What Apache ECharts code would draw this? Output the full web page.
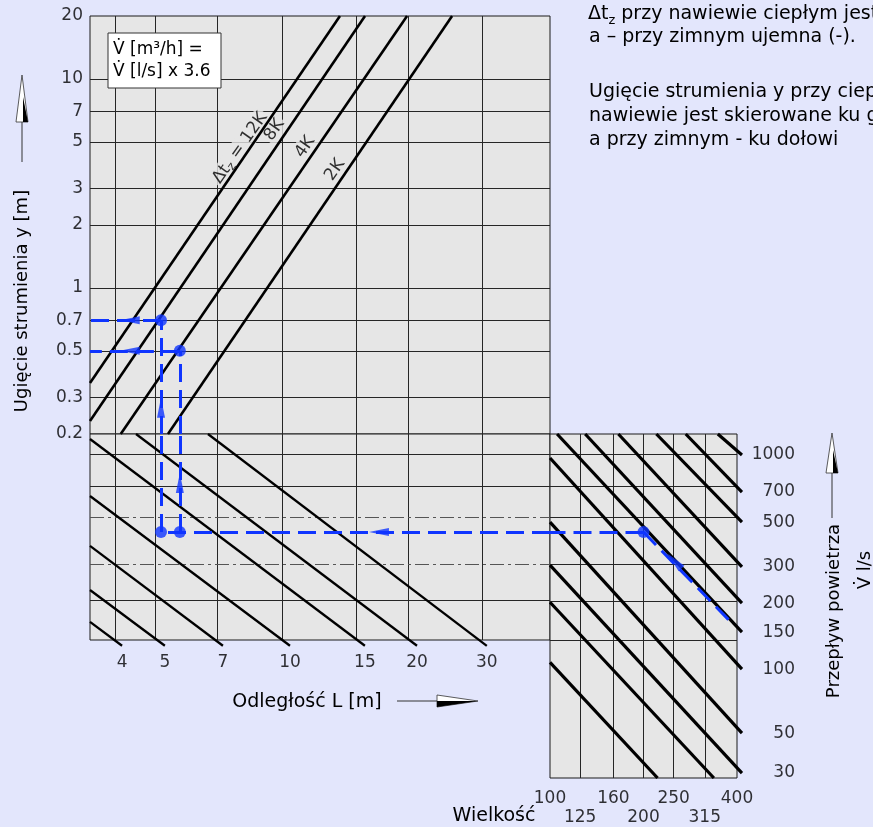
<!DOCTYPE html>
<html><head><meta charset="utf-8">
<script src="https://cdn.jsdelivr.net/npm/echarts@6/dist/echarts.min.js"></script>
<style>html,body{margin:0;padding:0;background:#e3e6fc;}#c{width:873px;height:827px;}</style>
</head><body><div id="c"></div>
<script>
// ---------- axis ranges ----------
const L_MIN = 3.49, L_MAX = 43.4;          // distance L [m]
const Y_MIN = 0.2, Y_MAX = 20;             // deflection y [m]
const FLOW_MAX = 1245, FLOW_MIN_B = 130, FLOW_MIN_C = 28.7;   // air flow [l/s]
const SIZE_MIN = 100, SIZE_MAX = 400;      // size

// ---------- grid / tick values ----------
const Y_TICKS = [0.2, 0.3, 0.5, 0.7, 1, 2, 3, 5, 7, 10, 20];
const L_GRID = [4, 5, 7, 10, 15, 20, 30];
const FLOW_GRID = [1000, 700, 500, 300, 200];
const FLOW_GRID_BROKEN = [500, 300];       // drawn broken in the lower-left panel
const SIZE_GRID = [125, 160, 200, 250, 315];
const SIZE_TICKS_ROW1 = [100, 160, 250, 400];
const SIZE_TICKS_ROW2 = [125, 200, 315];

// ---------- Δt_z lines (top panel) ----------
const DT_L0 = [3.49, 3.49, 4.13, 5.35];
const DT_Y0 = [0.351, 0.231, 0.2, 0.2];
const DT_L1 = [13.73, 15.75, 19.83, 25.38];
const DT_Y1 = [20, 20, 20, 20];
const DT_LABELS = ['{d|Δt}{s|z}{d| = 12K}', '{d|8K}', '{d|4K}', '{d|2K}'];
const DT_LABEL_L = [7.94, 9.59, 11.34, 13.36];
const DT_LABEL_Y = [4.67, 5.70, 4.72, 3.67];

// ---------- distance lines (lower-left panel) ----------
const DIST_LABELS = ['4', '5', '7', '10', '15', '20', '30'];
const DIST_L0 = [3.49, 3.49, 3.49, 3.49, 3.49, 4.49, 6.66];
const DIST_F0 = [158.5, 225, 365, 631, 1179, 1245, 1245];
const DIST_L1 = [4.16, 5.26, 7.23, 10.44, 15.74, 20.94, 30.7];
const DIST_F1 = [122, 122, 122, 122, 122, 122, 122];

// ---------- size lines (lower-right panel) ----------
const SIZE_LINE_LABELS = ['1000', '700', '500', '300', '200', '150', '100', '50', '30', '', ''];
const SIZE_LINE_S0 = [347, 273.5, 220, 166, 129.8, 105.4, 100, 100, 100, 100, 100];
const SIZE_LINE_F0 = [1245, 1245, 1245, 1245, 1245, 1245, 957, 474, 296, 197, 102];
const SIZE_LINE_S1 = [415, 415, 415, 415, 415, 415, 415, 415, 415, 337, 222];
const SIZE_LINE_F1 = [989, 659, 474, 290, 195, 142, 94.6, 46.9, 30.3, 28.7, 28.7];

// ---------- worked example (blue) ----------
const EX_SIZE = 200, EX_FLOW = 425;
const EX_SIZE_END = 388, EX_FLOW_END = 155;
const EX_L = [5.15, 5.71];
const EX_Y = [0.7, 0.5];
const EX_ARROW_C = [252, 309];          // size, flow
const EX_ARROW_B_H = [17.0, 425];       // L, flow
const EX_ARROW_B_V = [5.71, 728];       // L, flow
const EX_ARROW_A_V = [5.15, 0.267];     // L, y
const EX_ARROW_A_H_L = 4.34;

// ---------- styles ----------
const FONT = 'DejaVu Sans';
const INK = '#000';
const PANEL = '#e6e6e6';
const BLUE = '#0f35ff';
const GRIDC = '#262626';

const seg = (x0, y0, x1, y1) => ({coords: [[x0, y0], [x1, y1]]});
const linesSeries = (xi, yi, data, style, z) => ({
  type: 'lines', coordinateSystem: 'cartesian2d', xAxisIndex: xi, yAxisIndex: yi,
  polyline: false, silent: true, clip: false, z: z, animation: false,
  lineStyle: Object.assign({color: INK, width: 1, opacity: 1, curveness: 0}, style),
  data: data
});
const labelSeries = (xi, yi, data, label, z) => ({
  type: 'scatter', xAxisIndex: xi, yAxisIndex: yi, symbolSize: 0, silent: true, clip: false,
  z: z || 5, animation: false, itemStyle: {color: INK},
  label: Object.assign({show: true, color: INK, fontFamily: FONT, fontSize: 17, textBorderWidth: 0,
    formatter: p => p.name}, label),
  data: data
});
const arrowSym = 'path://M0,0 L4,20 L-4,20 Z';

const series = [];
// grid lines
series.push(linesSeries(0, 0, [
  ...L_GRID.map(l => seg(l, Y_MIN, l, Y_MAX)),
  ...Y_TICKS.filter(v => v > Y_MIN && v < Y_MAX).map(v => seg(L_MIN, v, L_MAX, v))
], {color: GRIDC}, 2));
series.push(linesSeries(1, 1, [
  ...L_GRID.map(l => seg(l, FLOW_MIN_B, l, FLOW_MAX)),
  ...FLOW_GRID.filter(f => FLOW_GRID_BROKEN.indexOf(f) < 0).map(f => seg(L_MIN, f, L_MAX, f))
], {color: GRIDC}, 2));
series.push(linesSeries(1, 1, FLOW_GRID_BROKEN.map(f => seg(L_MIN, f, L_MAX, f)),
  {color: '#555', type: [14, 4, 3, 4]}, 2));
series.push(linesSeries(2, 2, [
  ...SIZE_GRID.map(s => seg(s, FLOW_MIN_C, s, FLOW_MAX)),
  ...FLOW_GRID.concat([FLOW_MIN_B]).map(f => seg(SIZE_MIN, f, SIZE_MAX, f))
], {color: GRIDC}, 2));

// Δt lines
series.push(linesSeries(0, 0, DT_L0.map((l, i) => seg(l, DT_Y0[i], DT_L1[i], DT_Y1[i])), {width: 2.6}, 4));
// distance lines
series.push(linesSeries(1, 1, DIST_L0.map((l, i) => seg(l, DIST_F0[i], DIST_L1[i], DIST_F1[i])), {width: 2.3}, 4));
// size lines
series.push(linesSeries(2, 2, SIZE_LINE_S0.map((s, i) => seg(s, SIZE_LINE_F0[i], SIZE_LINE_S1[i], SIZE_LINE_F1[i])), {width: 3.2}, 4));

// Δt labels
series.push(labelSeries(0, 0, DT_LABELS.map((t, i) => ({name: t, value: [DT_LABEL_L[i], DT_LABEL_Y[i]]})), {
  position: 'inside', rotate: 55, backgroundColor: PANEL, padding: [0, 2],
  rich: {d: {fontSize: 17, fontFamily: FONT, color: INK, textBorderWidth: 0, lineHeight: 20},
         s: {fontSize: 12, fontFamily: FONT, color: INK, textBorderWidth: 0, lineHeight: 11, verticalAlign: 'bottom'}}
}, 3));
// y tick labels
series.push(labelSeries(0, 0, Y_TICKS.map(v => ({name: String(v), value: [L_MIN, v]})), {position: 'left', distance: 7}));
// distance labels
series.push(labelSeries(1, 1, DIST_LABELS.map((t, i) => ({name: t, value: [DIST_L1[i], DIST_F1[i]]})), {position: 'bottom', distance: 8}));
// flow labels
series.push(labelSeries(2, 2, SIZE_LINE_LABELS.map((t, i) => ({name: t, value: [SIZE_LINE_S1[i], SIZE_LINE_F1[i]]})).filter(d => d.name),
  {position: 'right', distance: 53, align: 'right'}));
// size labels
series.push(labelSeries(2, 2, SIZE_TICKS_ROW1.map(s => ({name: String(s), value: [s, FLOW_MIN_C]})), {position: 'bottom', distance: 12}));
series.push(labelSeries(2, 2, SIZE_TICKS_ROW2.map(s => ({name: String(s), value: [s, FLOW_MIN_C]})), {position: 'bottom', distance: 31}));

// blue example path
const dash = {color: BLUE, width: 3, type: [18, 8]};
series.push(linesSeries(2, 2, [
  seg(EX_SIZE, EX_FLOW, SIZE_MIN, EX_FLOW),
  seg(EX_SIZE, EX_FLOW, EX_SIZE_END, EX_FLOW_END)
], dash, 6));
series.push(linesSeries(1, 1, [
  seg(L_MAX, EX_FLOW, EX_L[0], EX_FLOW),
  seg(EX_L[0], EX_FLOW, EX_L[0], FLOW_MAX),
  seg(EX_L[1], EX_FLOW, EX_L[1], FLOW_MAX)
], dash, 6));
series.push(linesSeries(0, 0, [
  seg(EX_L[0], Y_MIN, EX_L[0], EX_Y[0]),
  seg(EX_L[1], Y_MIN, EX_L[1], EX_Y[1]),
  seg(EX_L[0], EX_Y[0], L_MIN, EX_Y[0]),
  seg(EX_L[1], EX_Y[1], L_MIN, EX_Y[1])
], dash, 6));
const dotS = (xi, yi, pts) => ({type: 'scatter', xAxisIndex: xi, yAxisIndex: yi, symbol: 'circle', symbolSize: 12,
  itemStyle: {color: BLUE}, silent: true, z: 7, clip: false, animation: false, data: pts});
series.push(dotS(2, 2, [[EX_SIZE, EX_FLOW]]));
series.push(dotS(1, 1, EX_L.map(l => [l, EX_FLOW])));
series.push(dotS(0, 0, EX_L.map((l, i) => [l, EX_Y[i]])));
const arrS = (xi, yi, pts) => ({type: 'scatter', xAxisIndex: xi, yAxisIndex: yi, symbol: arrowSym, symbolSize: [8, 20],
  itemStyle: {color: BLUE}, silent: true, z: 7, clip: false, animation: false,
  data: pts.map(p => ({value: p.v, symbolRotate: p.r}))});
series.push(arrS(2, 2, [{v: EX_ARROW_C, r: 43}]));
series.push(arrS(1, 1, [{v: EX_ARROW_B_H, r: 90}, {v: EX_ARROW_B_V, r: 0}]));
series.push(arrS(0, 0, [{v: EX_ARROW_A_V, r: 0}, {v: [EX_ARROW_A_H_L, EX_Y[0]], r: 90}, {v: [EX_ARROW_A_H_L, EX_Y[1]], r: 90}]));

const gridBase = {show: true, backgroundColor: PANEL, borderColor: '#1a1a1a', borderWidth: 1, containLabel: false};
const hiddenAxis = (gi, min, max, extra) => Object.assign({gridIndex: gi, type: 'log', logBase: 10, min, max, show: false,
  splitLine: {show: false}}, extra || {});

const txt = (x, y, text, size, extra) => Object.assign({type: 'text', x, y, silent: true,
  style: Object.assign({text, font: size + 'px "' + FONT + '"', fill: INK, textAlign: 'left', textVerticalAlign: 'middle',
    align: 'left', verticalAlign: 'middle'}, extra && extra.style || {})}, extra && extra.el || {});

const graphic = [
  // conversion box
  {type: 'rect', shape: {x: 108, y: 33, width: 113, height: 55}, style: {fill: '#fff', stroke: '#333', lineWidth: 1}, z: 100},
  txt(113, 50, 'V̇ [m³/h] =', 17, {el: {z: 101}}),
  txt(113, 72, 'V̇ [l/s] x 3.6', 17, {el: {z: 101}}),
  // y title + arrow
  txt(22, 301, 'Ugięcie strumienia y [m]', 18, {el: {rotation: Math.PI / 2}, style: {textAlign: 'center', align: 'center'}}),
  {type: 'line', shape: {x1: 22, y1: 122, x2: 22, y2: 162}, style: {stroke: '#333', lineWidth: 1}},
  {type: 'polygon', shape: {points: [[22, 75], [16, 122], [28, 122]]}, style: {fill: '#fff', stroke: '#333', lineWidth: 0.8}},
  {type: 'polygon', shape: {points: [[23, 97], [28, 122], [23, 122]]}, style: {fill: '#000'}},
  // x title + arrow
  txt(307, 702, 'Odległość L [m]', 19, {style: {textAlign: 'center', align: 'center'}}),
  {type: 'line', shape: {x1: 397, y1: 701, x2: 437, y2: 701}, style: {stroke: '#333', lineWidth: 1}},
  {type: 'polygon', shape: {points: [[478, 701], [437, 695], [437, 707]]}, style: {fill: '#fff', stroke: '#333', lineWidth: 0.8}},
  {type: 'polygon', shape: {points: [[478, 701], [437, 701], [437, 707]]}, style: {fill: '#000'}},
  // right title + arrow
  txt(834, 611, 'Przepływ powietrza', 18, {el: {rotation: Math.PI / 2}, style: {textAlign: 'center', align: 'center'}}),
  txt(865, 570, 'V̇ l/s', 18, {el: {rotation: Math.PI / 2}, style: {textAlign: 'center', align: 'center'}}),
  {type: 'line', shape: {x1: 832, y1: 473, x2: 832, y2: 518}, style: {stroke: '#333', lineWidth: 1}},
  {type: 'polygon', shape: {points: [[832, 433], [826, 473], [838, 473]]}, style: {fill: '#fff', stroke: '#333', lineWidth: 0.8}},
  {type: 'polygon', shape: {points: [[833, 450], [838, 473], [833, 473]]}, style: {fill: '#000'}},
  // size title
  txt(494, 816, 'Wielkość', 19, {style: {textAlign: 'center', align: 'center'}}),
  // notes
  {type: 'text', x: 588, y: 14, silent: true, style: {
    text: '{d|Δt}{s|z}{d| przy nawiewie ciepłym jest}', fill: INK,
    rich: {d: {fontSize: 19, fontFamily: FONT, fill: INK, color: INK, lineHeight: 26},
           s: {fontSize: 13, fontFamily: FONT, fill: INK, color: INK, lineHeight: 13, verticalAlign: 'bottom'}},
    textVerticalAlign: 'middle', verticalAlign: 'middle'}},
  txt(589, 37, 'a – przy zimnym ujemna (-).', 19),
  txt(589, 92, 'Ugięcie strumienia y przy ciep', 19),
  txt(589, 116, 'nawiewie jest skierowane ku g', 19),
  txt(589, 140, 'a przy zimnym - ku dołowi', 19)
];

const option = {
  backgroundColor: '#e3e6fc',
  animation: false,
  textStyle: {fontFamily: FONT},
  grid: [
    Object.assign({left: 90, top: 16, width: 460, height: 418}, gridBase),
    Object.assign({left: 90, top: 434, width: 460, height: 206}, gridBase),
    Object.assign({left: 550, top: 434, width: 187, height: 344}, gridBase)
  ],
  xAxis: [
    hiddenAxis(0, L_MIN, L_MAX),
    hiddenAxis(1, L_MIN, L_MAX),
    hiddenAxis(2, SIZE_MIN, SIZE_MAX)
  ],
  yAxis: [
    hiddenAxis(0, Y_MIN, Y_MAX),
    hiddenAxis(1, FLOW_MIN_B, FLOW_MAX),
    hiddenAxis(2, FLOW_MIN_C, FLOW_MAX)
  ],
  series: series,
  graphic: graphic
};
const chart = echarts.init(document.getElementById('c'), null, {renderer: 'canvas', width: 873, height: 827});
chart.setOption(option);
</script>
</body></html>
